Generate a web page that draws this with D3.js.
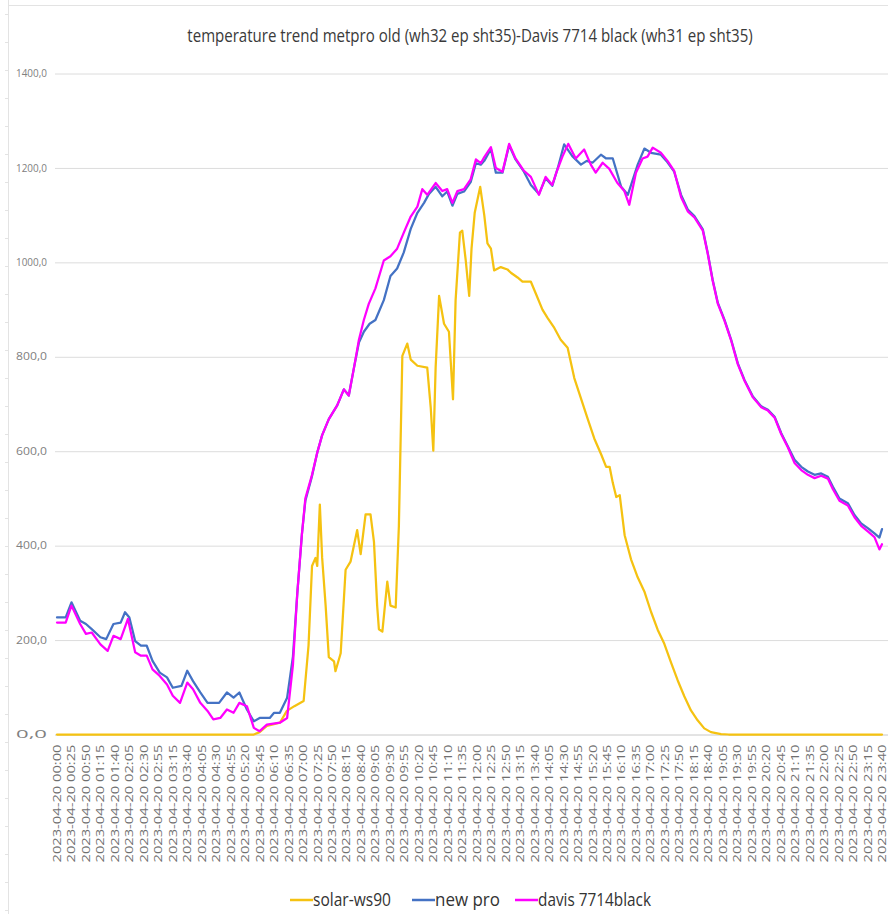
<!DOCTYPE html>
<html>
<head>
<meta charset="utf-8">
<script src="https://cdn.jsdelivr.net/npm/d3@7"></script>
<style>
  html, body { margin: 0; padding: 0; background: #fff; }
  svg { display: block; }
  text { font-family: "Liberation Sans Narrow", "Open Sans", "DejaVu Sans Condensed", sans-serif; }
</style>
</head>
<body>
<svg id="chart" width="888" height="914"></svg>
<script>
// ---------- DATA ----------
const title = "temperature trend metpro old (wh32 ep sht35)-Davis 7714 black (wh31 ep sht35)";
const datePrefix = "2023-04-20 ";
const timeLabels = ["00:00","00:25","00:50","01:15","01:40","02:05","02:30","02:55","03:15","03:40",
  "04:05","04:30","04:55","05:20","05:45","06:10","06:35","07:00","07:25","07:50",
  "08:15","08:40","09:05","09:30","09:55","10:20","10:45","11:10","11:35","12:00",
  "12:25","12:50","13:15","13:40","14:05","14:30","14:55","15:20","15:45","16:10",
  "16:35","17:00","17:25","17:50","18:15","18:40","19:05","19:30","19:55","20:20",
  "20:45","21:10","21:35","22:00","22:25","22:50","23:15","23:40"];
const labelEvery = 5;              // one label every 5 samples (5-minute records)
const yTicks = [0,200,400,600,800,1000,1200,1400];
const seriesNames = ["solar-ws90","new pro","davis 7714black"];

// [sample index, value]
const solar = [[0,0],[68,0],[70,5],[72.5,18],[77,25],[79.4,50],[82,60],[85.2,71],[86.9,189],[88.1,357],
  [89.3,374],[89.9,357],[90.8,487],[91.6,374],[92.8,273],[93.9,164],[95.7,155],[96.2,134],[98,172],
  [99.7,349],[101.4,366],[103.7,433],[104.9,382],[106.6,466],[108.3,466],[109.5,408],[110.6,273],
  [111.2,223],[112.4,218],[114.1,324],[115.2,273],[117,269],[118.1,441],[119.3,802],[121,828],
  [122.2,794],[124.5,781],[127.9,777],[129.1,693],[130,601],[130.8,777],[132,929],[133.7,870],
  [135.4,853],[136.8,710],[137.7,920],[139.2,1063],[140,1067],[141.2,1004],[142.4,929],[143.2,1029],
  [144.3,1105],[146.2,1160],[147.6,1100],[148.7,1040],[149.9,1029],[151,983],[153.3,990],[155.6,985],
  [156.8,978],[159.1,968],[160.8,959],[163.7,959],[165.4,934],[167.7,900],[169.4,883],[171.8,861],
  [174,836],[176.4,819],[178.7,755],[181,712],[183.3,669],[185.6,627],[188,593],[189.7,567],
  [190.9,567],[192,533],[193.2,503],[194.4,507],[196.1,422],[198.3,371],[200.6,333],[202.9,303],
  [205.2,260],[207.5,222],[209.8,192],[212.1,153],[214.4,115],[216.7,81],[219,51],[221.3,30],
  [223.6,13],[225.9,5],[229.4,1],[232,0],[285,0]];

const newPro = [[0,248],[3,248],[5,280],[8,241],[10,234],[12,223],[15,206],[17,202],[19.5,234],[22,237],
  [23.5,259],[25,248],[27,198],[29,188],[31,188],[33,156],[35.5,131],[38,121],[40,99],[43,103],
  [45,135],[47,113],[49.5,89],[52,67],[56,67],[58.7,89],[61,78],[63,89],[65.6,53],[68,28],[70,35],
  [73.5,35],[75,46],[77,46],[79.5,78],[81.5,165],[83,298],[84.6,424],[85.8,495],[88,545],[89.9,597],
  [91.6,634],[93.9,668],[96.8,697],[99.1,731],[100.8,718],[102.6,777],[104.3,830],[106,853],[108,870],
  [110,878],[112.9,920],[115.2,971],[117.5,987],[119.8,1021],[122.2,1071],[124.5,1105],[126.8,1126],
  [128.5,1145],[130.8,1160],[133.1,1140],[134.8,1150],[136.6,1120],[138.3,1145],[140.6,1150],
  [142.9,1170],[144.7,1210],[146.4,1207],[147.6,1215],[149.9,1240],[151.6,1190],[153.9,1190],
  [156.2,1248],[158.4,1218],[161.3,1192],[163.7,1164],[166.5,1145],[168.8,1178],[171.1,1162],
  [173,1200],[175.2,1250],[178,1225],[181,1207],[183,1215],[185,1211],[187.9,1228],[189.7,1220],
  [192,1220],[194.9,1160],[197.2,1143],[200.6,1207],[202.9,1241],[205.2,1232],[208.6,1228],
  [210.9,1212],[213.2,1192],[215.6,1143],[217.9,1112],[220.2,1098],[223.1,1070],[224.8,1020],
  [226.5,963],[228.3,914],[230.6,878],[232.9,836],[235.2,786],[237.5,751],[240.4,716],[243.3,695],
  [245.6,688],[247.9,673],[250.2,638],[252.5,610],[254.8,582],[257.1,567],[259.4,557],[261.7,550],
  [264,553],[266.3,546],[268,525],[270.3,500],[273.2,490],[275.5,465],[277.8,447],[280.1,437],
  [282.4,426],[284.1,417],[285,435]];

const davis = [[0,237],[3,237],[5,273],[8,234],[10,213],[12,216],[15,191],[17.5,177],[19.5,209],[22,202],
  [24.5,245],[27,174],[29,167],[31,167],[33,138],[35.5,124],[38,106],[40,82],[42.5,67],[45,110],
  [47,96],[49.5,67],[52,50],[54,32],[56.4,35],[58.7,53],[61,46],[63,67],[65.6,60],[68,14],[70,7],
  [72.5,21],[77,25],[79.5,35],[81.5,147],[83,298],[84.6,424],[85.8,500],[88.1,550],[89.9,597],
  [91.6,634],[93.9,668],[96.8,697],[99.1,731],[100.8,718],[102.6,777],[104.3,836],[106,878],
  [107.7,912],[110,945],[112.9,1004],[115.2,1013],[117.5,1029],[119.8,1063],[122.2,1097],[124.5,1118],
  [126.2,1155],[127.9,1143],[130.8,1168],[133.1,1151],[134.8,1155],[136.6,1126],[138.3,1151],
  [140.6,1155],[142.9,1176],[144.7,1218],[146.4,1210],[147.6,1223],[149.9,1244],[151.6,1200],
  [153.9,1192],[156.2,1251],[158.4,1220],[161.3,1194],[163.7,1181],[166.5,1143],[168.8,1181],
  [171.1,1164],[172.5,1190],[174.6,1224],[176.6,1251],[179.2,1220],[182.1,1239],[184.4,1207],
  [186.1,1190],[188.5,1211],[190.8,1198],[193.6,1168],[196,1151],[197.7,1122],[200,1190],[202.3,1220],
  [204,1224],[205.8,1243],[208.6,1232],[210.9,1215],[213.2,1194],[215.6,1138],[217.9,1108],
  [220.2,1095],[223.1,1067],[224.8,1018],[226.5,961],[228.3,912],[230.6,876],[232.9,834],[235.2,784],
  [237.5,749],[240.4,714],[243.3,693],[245.6,686],[247.9,671],[250.2,636],[252.5,608],[254.8,575],
  [257.1,560],[259.4,550],[261.7,543],[264,548],[266.3,542],[268,520],[270.3,495],[273.2,485],
  [275.5,460],[277.8,442],[280.1,430],[282.4,418],[284.1,392],[285,403]];

// ---------- LAYOUT ----------
const W = 888, H = 914;
const svg = d3.select("#chart");
const nSamples = (timeLabels.length - 1) * labelEvery;   // 285

const x = d3.scaleLinear().domain([0, nSamples]).range([57, 882]);
const y = d3.scaleLinear().domain([0, 1400]).range([734.5, 73.5]);

const colors = { "solar-ws90": "#F5C211", "new pro": "#4472C4", "davis 7714black": "#FF00FF" };

// faint spreadsheet frame
svg.append("line").attr("x1", 8).attr("x2", W).attr("y1", 5.5).attr("y2", 5.5)
  .attr("stroke", "#e3e3e3").attr("stroke-width", 1);
svg.append("line").attr("x1", 8.5).attr("x2", 8.5).attr("y1", 0).attr("y2", H)
  .attr("stroke", "#e3e3e3").attr("stroke-width", 1);
svg.append("g").selectAll("line").data(d3.range(0, 33)).join("line")
  .attr("x1", 5).attr("x2", 8.5)
  .attr("y1", d => 14.5 + d * 28).attr("y2", d => 14.5 + d * 28)
  .attr("stroke", "#e3e3e3");

// fit a text horizontally to a target width by scaling it (keeps its glyph height)
function fitWidth(sel, target, cx, anchor) {
  sel.each(function () {
    const t = d3.select(this);
    const w = this.getComputedTextLength();
    const k = w > 0 ? target / w : 1;
    t.attr("transform", `translate(${cx},0) scale(${k},1)`);
  });
}

// title
const titleText = svg.append("text")
  .attr("x", 0).attr("y", 42)
  .attr("text-anchor", "middle")
  .attr("font-size", 18)
  .attr("fill", "#3a3a3a")
  .text(title);
fitWidth(titleText, 566, 470);

// gridlines
const locale = d3.formatLocale({ decimal: ",", thousands: ".", grouping: [3], currency: ["", ""] });
const fmt = locale.format(".1f");

const grid = svg.append("g").attr("transform", "translate(55,0)")
  .call(d3.axisLeft(y).tickValues(yTicks).tickSize(-(W - 55)).tickFormat(fmt).tickPadding(8));
grid.select(".domain").remove();
grid.selectAll(".tick line")
  .attr("stroke", d => d === 0 ? "#c8c8c8" : "#dcdcdc").attr("stroke-width", 1);
grid.selectAll(".tick text")
  .attr("fill", "#808080").attr("font-size", 10)
  .attr("font-family", "'Liberation Sans', Arial, sans-serif")
  .attr("textLength", 31).attr("lengthAdjust", "spacingAndGlyphs");

// x axis labels
const labelIdx = timeLabels.map((t, i) => i * labelEvery);
const xa = svg.append("g").attr("transform", `translate(0,${y(0)})`)
  .call(d3.axisBottom(x).tickValues(labelIdx).tickSize(0)
    .tickFormat(d => datePrefix + timeLabels[d / labelEvery]));
xa.select(".domain").remove();
xa.selectAll(".tick text")
  .attr("transform", "rotate(-90)")
  .attr("x", -10).attr("y", 0).attr("dy", "0.35em")
  .attr("text-anchor", "end")
  .attr("fill", "#6f6f6f").attr("font-size", 10)
  .attr("font-family", "'Liberation Sans', Arial, sans-serif")
  .attr("textLength", 118).attr("lengthAdjust", "spacingAndGlyphs");

// lines
const line = d3.line().x(d => x(d[0])).y(d => y(d[1]));
const seriesData = [solar, newPro, davis];
svg.append("g").selectAll("path").data(seriesData).join("path")
  .attr("d", line)
  .attr("fill", "none")
  .attr("stroke", (d, i) => colors[seriesNames[i]])
  .attr("stroke-width", 2.25)
  .attr("stroke-linejoin", "round")
  .attr("stroke-linecap", "round");

// legend
const legendX = [290, 412, 515];
const legendW = [78, 65, 113];
const legend = svg.append("g").attr("transform", "translate(0,900)");
const items = legend.selectAll("g").data(seriesNames).join("g")
  .attr("transform", (d, i) => `translate(${legendX[i]},0)`);
items.append("line").attr("x1", 0).attr("x2", 23).attr("y1", 0).attr("y2", 0)
  .attr("stroke", d => colors[d]).attr("stroke-width", 2.5);
items.append("text").attr("x", 0).attr("y", 0).attr("dy", "0.35em")
  .attr("font-size", 18).attr("fill", "#333")
  .text(d => d)
  .each(function (d, i) {
    const w = this.getComputedTextLength();
    d3.select(this).attr("transform", `translate(23,0) scale(${legendW[i] / w},1)`);
  });
</script>
</body>
</html>
